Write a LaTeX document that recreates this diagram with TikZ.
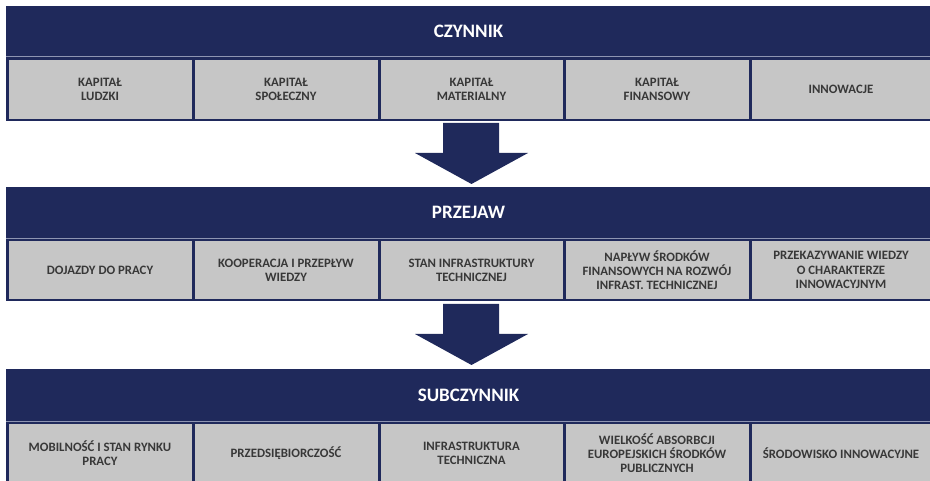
\documentclass[tikz,border=0pt]{standalone}
\usepackage{fontspec}
\setmainfont{Carlito}
\definecolor{navy}{HTML}{1F295B}
\definecolor{cellgray}{HTML}{C6C6C6}
\definecolor{txtgray}{HTML}{383838}
\definecolor{sepline}{HTML}{8E95B2}
\begin{document}
\begin{tikzpicture}[x=1pt,y=-1pt,
  band/.style={fill=navy,draw=none,inner sep=0pt,text=white,
    font=\bfseries\fontsize{19}{22}\selectfont},
  frame/.style={fill=navy,draw=none},
  cell/.style={fill=cellgray,draw=none,inner sep=0pt,align=center,text=txtgray,
    font=\bfseries\fontsize{12.8}{14.3}\selectfont},
  bigarrow/.style={fill=navy,draw=none}]
\useasboundingbox (0,0) rectangle (930,481);
% bands
\fill[navy] (6,6) rectangle (931,56);
\node[band] (b1) at (468.5,31) {CZYNNIK};
\fill[navy] (6,187) rectangle (931,238);
\node[band] (b2) at (468.5,212.5) {PRZEJAW};
\fill[navy] (6,369) rectangle (931,421);
\node[band] (b3) at (468.5,395) {SUBCZYNNIK};
% separator lines
\draw[sepline,line width=1pt] (6,56.5) -- (931,56.5);
\draw[sepline,line width=1pt] (6,238.5) -- (931,238.5);
\draw[sepline,line width=1pt] (6,421.5) -- (931,421.5);
% row frames
\fill[navy] (6,57) rectangle (931,121);
\fill[navy] (6,239) rectangle (931,301);
\fill[navy] (6,422) rectangle (931,482);
% row 1
\node[cell,minimum width=183,minimum height=59] (c11) at (100,89.5) {KAPITAŁ\\LUDZKI};
\node[cell,minimum width=183,minimum height=59] (c12) at (286,89.5) {KAPITAŁ\\SPOŁECZNY};
\node[cell,minimum width=182,minimum height=59] (c13) at (471.5,89.5) {KAPITAŁ\\MATERIALNY};
\node[cell,minimum width=183,minimum height=59] (c14) at (657,89.5) {KAPITAŁ\\FINANSOWY};
\node[cell,minimum width=179,minimum height=59] (c15) at (841,89.5) {INNOWACJE};
% row 2
\node[cell,minimum width=183,minimum height=58] (c21) at (100,270) {DOJAZDY DO PRACY};
\node[cell,minimum width=183,minimum height=58] (c22) at (286,270) {KOOPERACJA I PRZEPŁYW\\WIEDZY};
\node[cell,minimum width=182,minimum height=58] (c23) at (471.5,270) {STAN INFRASTRUKTURY\\TECHNICZNEJ};
\node[cell,minimum width=183,minimum height=58] (c24) at (657,270) {NAPŁYW ŚRODKÓW\\FINANSOWYCH NA ROZWÓJ\\INFRAST. TECHNICZNEJ};
\node[cell,minimum width=179,minimum height=58] (c25) at (841,270) {PRZEKAZYWANIE WIEDZY\\O CHARAKTERZE\\INNOWACYJNYM};
% row 3
\node[cell,minimum width=183,minimum height=58] (c31) at (100,453) {MOBILNOŚĆ I STAN RYNKU\\PRACY};
\node[cell,minimum width=183,minimum height=58] (c32) at (286,453) {PRZEDSIĘBIORCZOŚĆ};
\node[cell,minimum width=182,minimum height=58] (c33) at (471.5,453) {INFRASTRUKTURA\\TECHNICZNA};
\node[cell,minimum width=183,minimum height=58] (c34) at (657,453) {WIELKOŚĆ ABSORBCJI\\EUROPEJSKICH ŚRODKÓW\\PUBLICZNYCH};
\node[cell,minimum width=179,minimum height=58] (c35) at (841,453) {ŚRODOWISKO INNOWACYJNE};
% arrows
\fill[bigarrow] (443,123) -- (499,123) -- (499,153) -- (528,153) -- (471.5,184) -- (415,153) -- (443,153) -- cycle;
\fill[bigarrow] (443,304) -- (499,304) -- (499,334) -- (528,334) -- (471.5,365) -- (415,334) -- (443,334) -- cycle;
\end{tikzpicture}
\end{document}
